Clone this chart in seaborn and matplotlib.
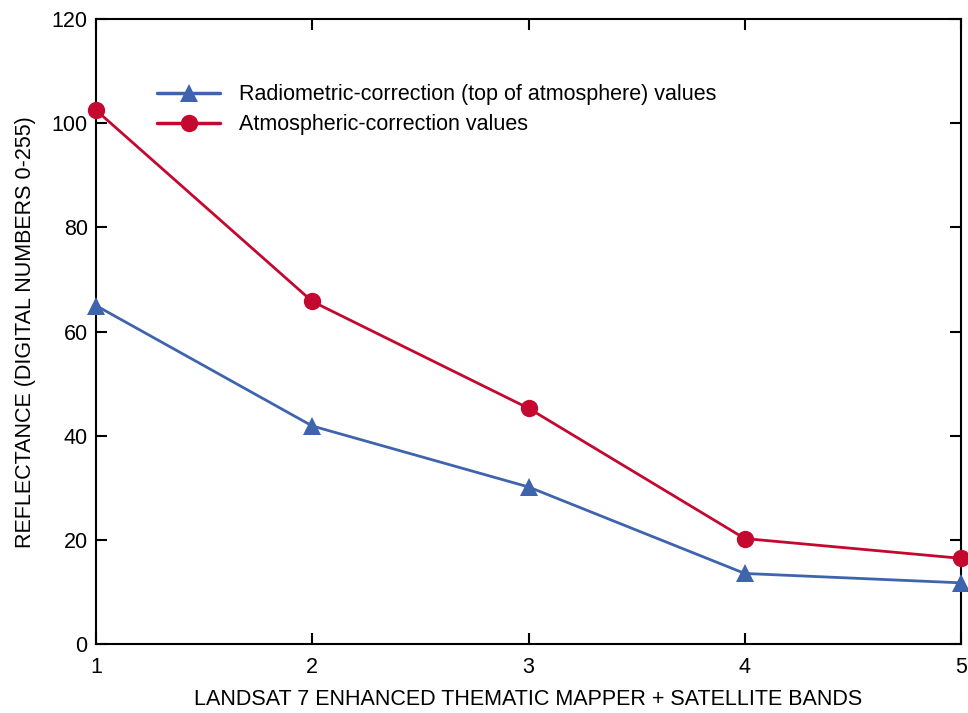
import matplotlib
matplotlib.use("Agg")
import matplotlib.pyplot as plt
import seaborn as sns
import pandas as pd

bands = [1, 2, 3, 4, 5]
radiometric = [65.0, 41.9, 30.2, 13.6, 11.8]
atmospheric = [102.5, 65.8, 45.3, 20.3, 16.5]
series_names = ["Radiometric-correction (top of atmosphere) values",
                "Atmospheric-correction values"]
x_ticks = [1, 2, 3, 4, 5]
y_ticks = [0, 20, 40, 60, 80, 100, 120]

df = pd.concat([
    pd.DataFrame({"band": bands, "value": radiometric, "series": series_names[0]}),
    pd.DataFrame({"band": bands, "value": atmospheric, "series": series_names[1]}),
])

sns.set_theme(style="ticks")
plt.rcParams['font.family'] = ['Liberation Sans', 'DejaVu Sans']
plt.rcParams['text.color'] = 'black'
plt.rcParams['axes.labelcolor'] = 'black'

fig = plt.figure(figsize=(9.68, 7.13), dpi=100)
ax = fig.add_axes([0.0992, 0.0963, 0.8936, 0.8771])

palette = {series_names[0]: "#3f64ae", series_names[1]: "#c4082f"}
markers = {series_names[0]: "^", series_names[1]: "o"}
sns.lineplot(data=df, x="band", y="value", hue="series", style="series",
             palette=palette, markers=markers, dashes=False, markersize=12.5,
             markeredgewidth=0, linewidth=2, ax=ax, clip_on=False, zorder=3)

ax.set_xlim(1, 5)
ax.set_ylim(0, 120)
ax.set_xticks(x_ticks)
ax.set_yticks(y_ticks)
ax.tick_params(direction="in", length=8, width=1.5, top=True, right=True,
               labelsize=15.5, colors="black", pad=9)
ax.tick_params(axis="y", pad=6)
for s in ax.spines.values():
    s.set_linewidth(1.5)
    s.set_color("black")

ax.set_xlabel("LANDSAT 7 ENHANCED THEMATIC MAPPER + SATELLITE BANDS", fontsize=15.5, labelpad=8)
ax.set_ylabel("REFLECTANCE (DIGITAL NUMBERS 0-255)", fontsize=15.5, labelpad=11)

leg = ax.legend(loc="upper left", bbox_to_anchor=(0.061, 0.909), frameon=False,
                fontsize=15.5, handlelength=2.9, handletextpad=0.9, labelspacing=0.4,
                borderaxespad=0)
for line in leg.get_lines():
    line.set_linewidth(2.5)

fig.savefig("out.png", dpi=100)
